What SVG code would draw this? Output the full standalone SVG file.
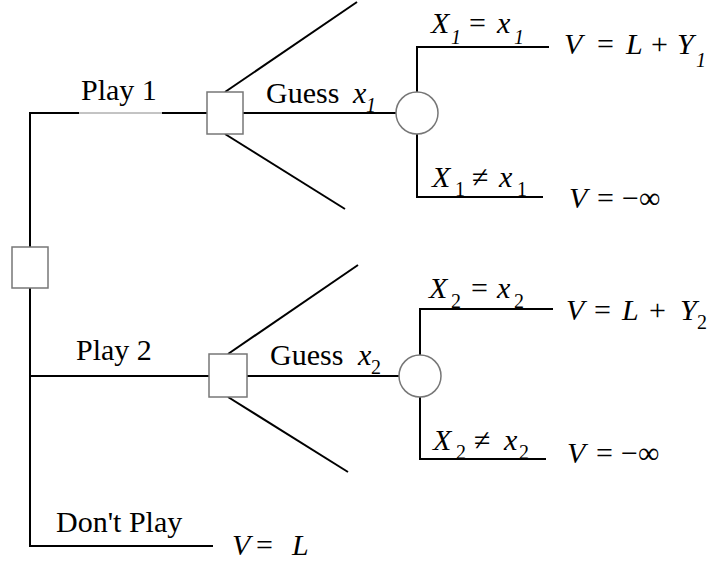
<svg xmlns="http://www.w3.org/2000/svg" width="709" height="561" viewBox="0 0 709 561">
<rect width="709" height="561" fill="#fff"/>
<g id="connectors" stroke="#000" stroke-width="2" fill="none">
<path d="M30,247 V113 H79 M162,113 H207"/>
<path d="M79,113 H162" stroke="#888" stroke-width="1"/>
<path d="M30,288 V546 H213"/>
<path d="M30,376 H209"/>
<path d="M243,113 H396"/>
<path d="M225,92 L357,2"/>
<path d="M225,134 L345,209"/>
<path d="M247,376 H399"/>
<path d="M228,354 L358,265"/>
<path d="M228,397 L348,472"/>
<path d="M549,47 H417 V92 M417,134 V197 H543"/>
<path d="M553,309 H420 V355 M420,397 V459 H546"/>
</g>
<g id="root"><rect x="12" y="247" width="36" height="41" fill="#fff" stroke="#777" stroke-width="1.5"/></g>
<g id="decision1"><rect x="207" y="92" width="36" height="42" fill="#fff" stroke="#777" stroke-width="1.5"/></g>
<g id="decision2"><rect x="209" y="354" width="38" height="43" fill="#fff" stroke="#777" stroke-width="1.5"/></g>
<g id="chance1"><circle cx="417" cy="113" r="21" fill="#fff" stroke="#777" stroke-width="1.5"/></g>
<g id="chance2"><circle cx="420" cy="376" r="21" fill="#fff" stroke="#777" stroke-width="1.5"/></g>
<g id="labels" font-family="Liberation Serif" font-size="30" fill="#000">
<text x="81" y="100">Play 1</text>
<text x="266" y="103">Guess <tspan font-style="italic" x="353">x</tspan><tspan font-style="italic" font-size="20" x="366" y="112">1</tspan></text>
<text x="76" y="360">Play 2</text>
<text x="270" y="365">Guess <tspan font-style="italic" x="358">x</tspan><tspan font-size="20" x="371" y="374">2</tspan></text>
<text x="56" y="532">Don&#39;t Play</text>
<text font-style="italic" x="232" y="555">V<tspan font-style="normal" x="256">=</tspan><tspan x="292">L</tspan></text>
<text font-style="italic" x="431" y="33">X<tspan font-size="20" x="451" y="44">1</tspan><tspan font-style="normal" x="469" y="33">=</tspan><tspan x="497" y="33">x</tspan><tspan font-size="20" x="514" y="44">1</tspan></text>
<text font-style="italic" x="564" y="54">V<tspan font-style="normal" x="597">=</tspan><tspan x="626">L</tspan><tspan font-style="normal" x="651">+</tspan><tspan x="677">Y</tspan><tspan font-size="20" x="696" y="67">1</tspan></text>
<text font-style="italic" x="432" y="187">X<tspan font-size="20" font-style="normal" x="455" y="196">1</tspan><tspan font-style="normal" x="472" y="187">&#8800;</tspan><tspan x="499" y="187">x</tspan><tspan font-size="20" font-style="normal" x="517" y="196">1</tspan></text>
<text font-style="italic" x="569" y="208">V<tspan font-style="normal" x="597">=</tspan><tspan font-style="normal" x="622">&#8722;&#8734;</tspan></text>
<text font-style="italic" x="429" y="298">X<tspan font-size="20" font-style="normal" x="451" y="308">2</tspan><tspan font-style="normal" x="471" y="298">=</tspan><tspan x="497" y="298">x</tspan><tspan font-size="20" font-style="normal" x="514" y="308">2</tspan></text>
<text font-style="italic" x="566" y="320">V<tspan font-style="normal" x="594">=</tspan><tspan x="622">L</tspan><tspan font-style="normal" x="649">+</tspan><tspan x="680">Y</tspan><tspan font-size="20" font-style="normal" x="697" y="329">2</tspan></text>
<text font-style="italic" x="433" y="450">X<tspan font-size="20" font-style="normal" x="456" y="459">2</tspan><tspan font-style="normal" x="474" y="450">&#8800;</tspan><tspan x="504" y="450">x</tspan><tspan font-size="20" font-style="normal" x="519" y="459">2</tspan></text>
<text font-style="italic" x="567" y="463">V<tspan font-style="normal" x="596">=</tspan><tspan font-style="normal" x="621">&#8722;&#8734;</tspan></text>
</g>
</svg>
